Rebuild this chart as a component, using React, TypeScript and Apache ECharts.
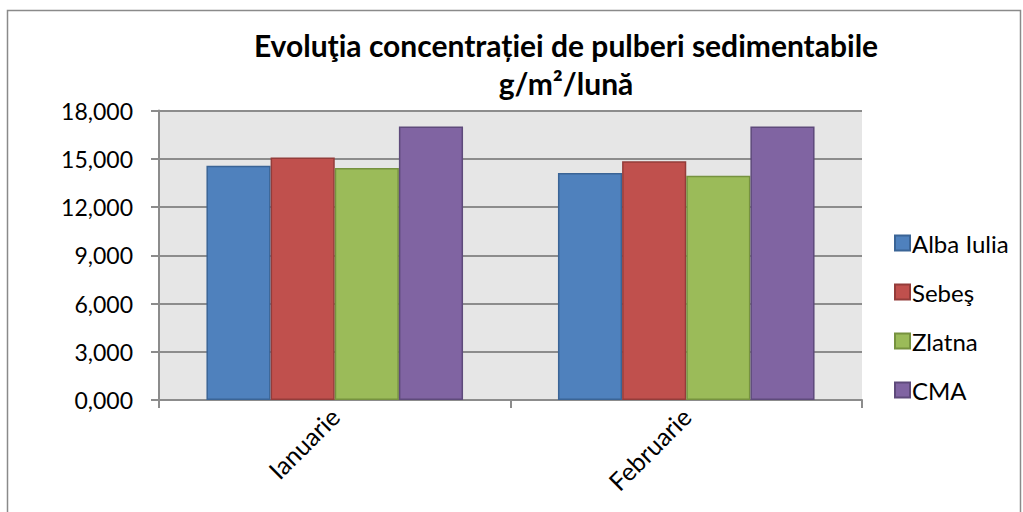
import React, { useEffect, useRef } from "react";
import * as echarts from "echarts";

const categories = ["Ianuarie", "Februarie"];
const seriesNames = ["Alba Iulia", "Sebeş", "Zlatna", "CMA"];
const albaIulia = [14.56, 14.11];
const sebes = [15.08, 14.85];
const zlatna = [14.42, 13.94];
const cma = [17.0, 17.0];
const yTicks = [0, 3, 6, 9, 12, 15, 18];

const fills = ["#4F81BD", "#C0504D", "#9BBB59", "#8064A2"];
const borders = ["#3A6496", "#943C3A", "#76923F", "#5E4A7B"];

export default function App() {
  const ref = useRef<HTMLDivElement>(null);
  useEffect(() => {
    if (!ref.current) return;
    const chart = echarts.init(ref.current, undefined, { renderer: "svg" });
    const values = [albaIulia, sebes, zlatna, cma];
    const font = "Lato, 'Open Sans', sans-serif";
    chart.setOption({
      animation: false,
      backgroundColor: "#ffffff",
      textStyle: { fontFamily: font },
      title: {
        text: "Evoluţia concentrației de pulberi sedimentabile\ng/m²/lună",
        left: 561,
        top: 21,
        textAlign: "center",
        textStyle: {
          fontFamily: font,
          fontWeight: "bold",
          fontSize: 30,
          lineHeight: 38,
          color: "#000000",
        },
      },
      graphic: [
        {
          type: "rect",
          shape: { x: 7.5, y: 10.5, width: 1013, height: 520 },
          style: { fill: "none", stroke: "#8a8a8a", lineWidth: 1.5 },
          silent: true,
          z: -1,
        },
      ],
      legend: {
        orient: "vertical",
        left: 889,
        top: 226,
        itemWidth: 15,
        itemHeight: 15,
        itemGap: 25,
        icon: "rect",
        data: seriesNames,
        textStyle: { fontFamily: font, fontSize: 24, color: "#000000", padding: [0, 0, 0, -3] },
      },
      grid: { left: 159, right: 161, top: 110.5, bottom: 112, containLabel: false, show: true, backgroundColor: "#E6E6E6", borderWidth: 0 },
      xAxis: {
        type: "category",
        data: categories,
        axisLine: { show: true, lineStyle: { color: "#8C8C8C", width: 2 } },
        axisTick: { show: true, length: 8, lineStyle: { color: "#8C8C8C", width: 2 } },
        axisLabel: { rotate: 45, fontSize: 25, color: "#000000", margin: 12, fontFamily: font },
        splitLine: { show: false },
      },
      yAxis: {
        type: "value",
        min: yTicks[0],
        max: yTicks[yTicks.length - 1],
        interval: 3,
        axisLine: { show: true, lineStyle: { color: "#8C8C8C", width: 2 } },
        axisTick: { show: true, length: 8, lineStyle: { color: "#8C8C8C", width: 2 } },
        axisLabel: {
          fontSize: 23,
          color: "#000000",
          margin: 26,
          fontFamily: font,
          formatter: (v: number) => v.toFixed(3).replace(".", ","),
        },
        splitLine: { show: true, lineStyle: { color: "#8C8C8C", width: 2 } },
      },
      series: seriesNames.map((name, i) => ({
        name,
        type: "bar",
        data: values[i],
        barGap: "0%",
        barCategoryGap: "27%",
        itemStyle: { color: fills[i], borderColor: borders[i], borderWidth: 1.5 },
      })),
    });
    return () => chart.dispose();
  }, []);
  return (
    <div
      ref={ref}
      style={{ position: "fixed", left: 0, top: 0, width: 1023, height: 512 }}
    />
  );
}
